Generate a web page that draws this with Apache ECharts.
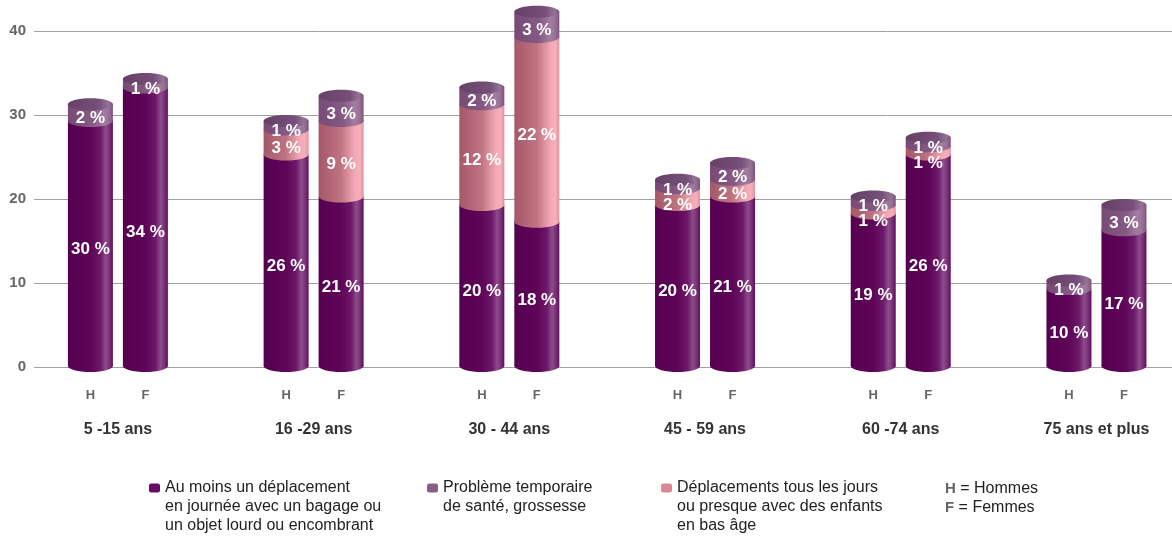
<!DOCTYPE html>
<html>
<head>
<meta charset="utf-8">
<script src="https://cdn.jsdelivr.net/npm/echarts@6/dist/echarts.min.js"></script>
<style>html,body{margin:0;padding:0;background:#fff}#c{width:1172px;height:538px}</style>
</head>
<body>
<div id="c"></div>
<script>
// ---- data ----
const groups = ['5 -15 ans', '16 -29 ans', '30 - 44 ans', '45 - 59 ans', '60 -74 ans', '75 ans et plus'];
const genders = ['H', 'F'];
const seriesNames = [
  'Au moins un déplacement\nen journée avec un bagage ou\nun objet lourd ou encombrant',
  'Déplacements tous les jours\nou presque avec des enfants\nen bas âge',
  'Problème temporaire\nde santé, grossesse'
];
// Hommes
const hommesBagage = [30, 26, 20, 20, 19, 10];
const hommesEnfants = [0, 3, 12, 2, 1, 0];
const hommesSante = [2, 1, 2, 1, 1, 1];
// Femmes
const femmesBagage = [34, 21, 18, 21, 26, 17];
const femmesEnfants = [0, 9, 22, 2, 1, 0];
const femmesSante = [1, 3, 3, 2, 1, 3];
const yTicks = [0, 10, 20, 30, 40];

// ---- styles ----
const FONT = "'Liberation Sans', Arial, sans-serif";
const RY = 6, BAR_W = 45, OFFSET = 27.5, LH = 19;
const STYLES = [
  { body: [[0, '#560050'], [0.5, '#5e0558'], [0.72, '#6c1868'], [0.84, '#8c4c8a'], [0.92, '#7a3276'], [1, '#620c5e']],
    cap: [[0, '#5a0a56'], [1, '#7a3276']], legend: '#6a0a66' },
  { body: [[0, '#a45868'], [0.5, '#c07482'], [0.8, '#f2a8b4'], [0.92, '#f5b0bb'], [1, '#e0909e']],
    cap: [[0, '#b06676'], [1, '#e8a0ac']], legend: '#d98896' },
  { body: [[0, '#784a76'], [0.55, '#855a83'], [0.8, '#a27ea0'], [0.9, '#9a7298'], [1, '#7e5480']],
    cap: [[0, '#664064'], [0.7, '#76507a'], [0.9, '#967296'], [1, '#7a5278']], legend: '#8a5c88' }
];

const layersBy = [
  [hommesBagage, hommesEnfants, hommesSante],
  [femmesBagage, femmesEnfants, femmesSante]
];

function barLayers(gi, gender) {
  const sets = layersBy[gender];
  let base = 0;
  const out = [];
  for (let l = 0; l < sets.length; l++) {
    const v = sets[l][gi];
    out.push({ layer: l, base: base, top: base + v, v: v });
    base += v;
  }
  return out;
}

function buildSegmentData(layer) {
  const data = [];
  groups.forEach((g, gi) => {
    genders.forEach((ge, gender) => {
      const ls = barLayers(gi, gender);
      const seg = ls[layer];
      let topLayer = -1;
      ls.forEach(s => { if (s.v > 0) topLayer = s.layer; });
      data.push([gi, gender, seg.base, seg.top, layer, topLayer === layer ? 1 : 0]);
    });
  });
  return data;
}

function centerY(api, gi, v, y0) {
  return v === 0 ? y0 - 1 : api.coord([gi, v])[1] + RY;
}

function renderSegment(params, api) {
  const gi = api.value(0), gender = api.value(1), base = api.value(2), top = api.value(3);
  const layer = api.value(4), isTop = api.value(5);
  if (top <= base) return null;
  const c = api.coord([gi, 0]);
  const cx = c[0] + (gender === 0 ? -OFFSET : OFFSET);
  const y0 = c[1];
  const topC = centerY(api, gi, top, y0);
  const botC = centerY(api, gi, base, y0);
  const st = STYLES[layer];
  const grad = new echarts.graphic.LinearGradient(0, 0, 1, 0, st.body.map(s => ({ offset: s[0], color: s[1] })));
  const children = [
    { type: 'ellipse', shape: { cx: cx, cy: botC, rx: BAR_W / 2, ry: RY }, style: { fill: grad } },
    { type: 'rect', shape: { x: cx - BAR_W / 2, y: topC, width: BAR_W, height: botC - topC }, style: { fill: grad } }
  ];
  if (isTop) {
    const capGrad = new echarts.graphic.LinearGradient(0, 0, 1, 0, st.cap.map(s => ({ offset: s[0], color: s[1] })));
    children.push({ type: 'ellipse', shape: { cx: cx, cy: topC, rx: BAR_W / 2, ry: RY }, style: { fill: capGrad } });
  }
  return { type: 'group', children: children };
}

function renderLabels(params, api) {
  const gi = api.value(0), gender = api.value(1);
  const c = api.coord([gi, 0]);
  const y0 = c[1];
  const cx = c[0] + (gender === 0 ? -OFFSET : OFFSET);
  const ls = barLayers(gi, gender).filter(s => s.v > 0).reverse();
  const children = [];
  let prev = -Infinity;
  ls.forEach(s => {
    const topC = centerY(api, gi, s.top, y0);
    const botC = centerY(api, gi, s.base, y0);
    let y = (topC + botC) / 2 + RY;
    if (y < prev + 15) y = prev + 15;
    prev = y;
    children.push({ type: 'text', style: { text: s.v + ' %', x: cx, y: y, fill: '#ffffff',
      font: 'bold 17px ' + FONT, align: 'center', verticalAlign: 'middle' } });
  });
  children.push({ type: 'text', style: { text: genders[gender], x: cx, y: y0 + 28, fill: '#666666',
    font: 'bold 13px ' + FONT, align: 'center', verticalAlign: 'middle' } });
  if (gender === 0) {
    children.push({ type: 'text', style: { text: groups[gi], x: c[0], y: y0 + 63, fill: '#333333',
      font: 'bold 16px ' + FONT, align: 'center', verticalAlign: 'middle' } });
  }
  return { type: 'group', children: children };
}

const labelData = [];
groups.forEach((g, gi) => genders.forEach((ge, gender) => labelData.push([gi, gender])));

function legendFor(idx, left) {
  const lines = seriesNames[idx].split('\n').length;
  // leading empty lines so that the icon sits beside the first text line
  const blockLines = 2 * lines - 1;
  return {
    show: true, data: [seriesNames[idx]], left: left, top: 488 - blockLines * LH / 2,
    padding: 0, orient: 'vertical', selectedMode: false,
    itemWidth: 11, itemHeight: 9, icon: 'roundRect',
    formatter: name => '\n'.repeat(lines - 1) + name,
    textStyle: { fontFamily: FONT, fontSize: 16, color: '#222222', lineHeight: LH }
  };
}

const chart = echarts.init(document.getElementById('c'));
chart.setOption({
  animation: false,
  grid: { left: 34, right: 0, top: 31, bottom: 171 },
  xAxis: { type: 'value', min: -0.4287, max: 5.386, show: false },
  yAxis: {
    type: 'value', min: yTicks[0], max: yTicks[yTicks.length - 1], interval: 10,
    axisLine: { show: false }, axisTick: { show: false },
    splitLine: { lineStyle: { color: '#a0a0a0', width: 1 } },
    axisLabel: { color: '#666666', fontFamily: FONT, fontWeight: 'bold', fontSize: 15, margin: 8 }
  },
  legend: [
    legendFor(0, 149),
    legendFor(2, 427),
    legendFor(1, 661)
  ],
  graphic: [{
    type: 'text', left: 945, top: 479,
    style: {
      text: '{b|H} = Hommes\n{b|F} = Femmes',
      font: '16px ' + FONT, fill: '#222222', lineHeight: LH,
      rich: { b: { fontFamily: FONT, fontWeight: 'bold', fontSize: 15, fill: '#666666', lineHeight: LH } }
    }
  }],
  series: [0, 1, 2].map(layer => ({
    type: 'custom', name: seriesNames[layer],
    itemStyle: { color: STYLES[layer].legend },
    renderItem: renderSegment,
    encode: { x: 0, y: 3 },
    data: buildSegmentData(layer),
    clip: false, z: 2
  })).concat([{
    type: 'custom', name: 'labels', renderItem: renderLabels, data: labelData,
    encode: { x: 0 }, clip: false, z: 5, silent: true
  }])
});
</script>
</body>
</html>
